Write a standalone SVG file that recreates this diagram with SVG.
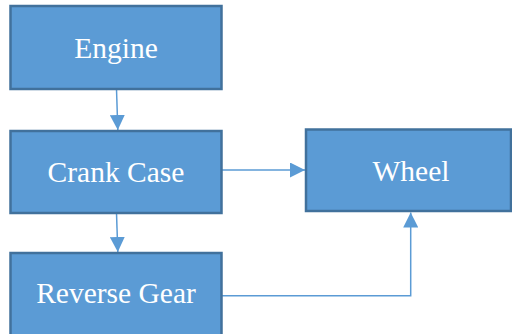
<svg xmlns="http://www.w3.org/2000/svg" width="512" height="334" viewBox="0 0 512 334">
<defs>
<style>
.box{fill:#5B9BD5;stroke:#41719C;stroke-width:2.5}
.lbl{fill:#fff;font-family:"Liberation Serif","Times New Roman",serif;font-size:29.5px;text-anchor:middle}
.con{fill:none;stroke:#5B9BD5;stroke-width:1.5}
</style>
<marker id="ah" viewBox="0 0 10 10" refX="10" refY="5" markerWidth="15" markerHeight="15" markerUnits="userSpaceOnUse" orient="auto">
<path d="M0,0 L10,5 L0,10 z" fill="#5B9BD5"/>
</marker>
</defs>
<rect width="512" height="334" fill="#fff"/>
<g id="connectors">
<line class="con" x1="116.5" y1="89" x2="117.8" y2="130" marker-end="url(#ah)"/>
<line class="con" x1="116.5" y1="213" x2="117.8" y2="252" marker-end="url(#ah)"/>
<line class="con" x1="222" y1="170" x2="305" y2="170" marker-end="url(#ah)"/>
<polyline class="con" points="222,295.7 410.7,295.7 410.7,212.5" marker-end="url(#ah)"/>
</g>
<g id="engine">
<rect class="box" x="10.5" y="6" width="211" height="83"/>
<text class="lbl" x="116" y="58">Engine</text>
</g>
<g id="crank-case">
<rect class="box" x="10.5" y="131" width="211" height="82"/>
<text class="lbl" x="116" y="182">Crank Case</text>
</g>
<g id="reverse-gear">
<rect class="box" x="10.5" y="253" width="211" height="90"/>
<text class="lbl" x="116" y="303">Reverse Gear</text>
</g>
<g id="wheel">
<rect class="box" x="306" y="129.5" width="205" height="81.5"/>
<text class="lbl" x="411" y="180.5">Wheel</text>
</g>
</svg>
